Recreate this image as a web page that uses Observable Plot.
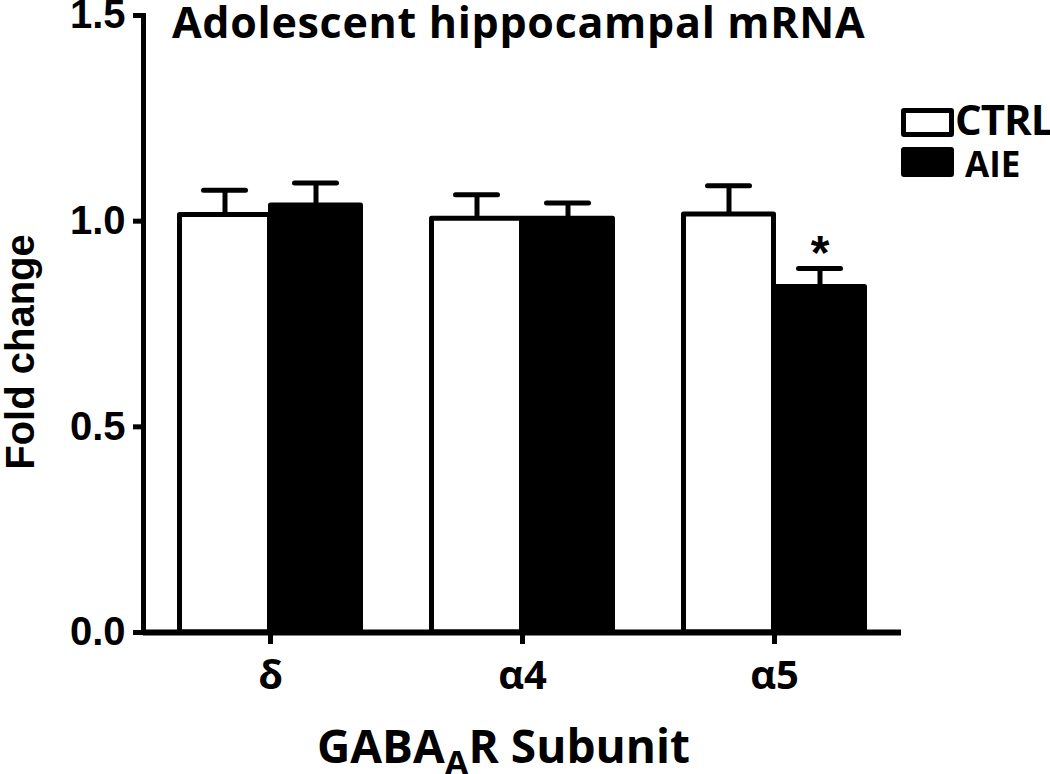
<!DOCTYPE html>
<html><head><meta charset="utf-8">
<script src="https://cdn.jsdelivr.net/npm/d3@7"></script>
<script src="https://cdn.jsdelivr.net/npm/@observablehq/plot@0.6"></script>
<style>
body{margin:0;background:#fff}
#wrap{position:relative;width:1050px;height:774px;overflow:hidden}
.t{position:absolute;font-family:"Open Sans";font-weight:700;color:#000;white-space:nowrap;line-height:1}
.box{position:absolute;box-sizing:border-box;border:5px solid #000;border-radius:3px}
</style></head><body><div id="wrap"></div>
<script>
const subunits = ["δ", "α4", "α5"];
const groups = ["CTRL", "AIE"];
const ctrlMean = [1.015, 1.006, 1.016];
const ctrlSem = [0.06, 0.058, 0.07];
const aieMean = [1.038, 1.006, 0.84];
const aieSem = [0.055, 0.038, 0.045];
const aieSig = ["", "", "*"];
const yTicks = [0, 0.5, 1.0, 1.5];
const title = "Adolescent hippocampal mRNA";
const yLabel = "Fold change";

const ctrl = subunits.map((s, i) => ({subunit: s, group: groups[0], mean: ctrlMean[i], sem: ctrlSem[i], sig: ""}));
const aie = subunits.map((s, i) => ({subunit: s, group: groups[1], mean: aieMean[i], sem: aieSem[i], sig: aieSig[i]}));

function groupMarks(data, dx, fill) {
  return [
    Plot.ruleX(data, {x: "subunit", y1: "mean", y2: d => d.mean + d.sem, dx, stroke: "black", strokeWidth: 5}),
    Plot.tickY(data, {x: "subunit", y: d => d.mean + d.sem, dx, insetLeft: 105, insetRight: 105, stroke: "black", strokeWidth: 5, strokeLinecap: "round"}),
    Plot.barY(data, {x: "subunit", y: "mean", dx, insetLeft: 81, insetRight: 81, fill, stroke: "black", strokeWidth: 5, strokeLinejoin: "round"})
  ];
}

const plot = Plot.plot({
  width: 1050, height: 774,
  marginLeft: 143, marginRight: 149, marginTop: 15, marginBottom: 142,
  style: {fontFamily: "Liberation Sans", background: "white", color: "black", overflow: "visible"},
  x: {domain: subunits, padding: 0, label: null},
  y: {domain: [0, 1.5], label: null},
  marks: [
    ...groupMarks(ctrl, -45.5, "white"),
    ...groupMarks(aie, 45.5, "black"),
    Plot.text(aie.filter(d => d.sig), {x: "subunit", y: d => d.mean + d.sem, text: "sig", dx: 45.5, dy: -15, fontSize: 48, fontWeight: "bold", fill: "black"}),
    Plot.ruleY([0], {stroke: "black", strokeWidth: 6}),
    Plot.frame({anchor: "left", stroke: "black", strokeWidth: 5}),
    Plot.axisY({ticks: yTicks, tickFormat: d3.format(".1f"), tickSize: 10, tickPadding: 8, stroke: "black", strokeWidth: 5, fontSize: 40, fontWeight: "bold", fill: "black", label: null}),
    Plot.axisX({tickSize: 12, tickPadding: 16, stroke: "black", strokeWidth: 5, fontSize: 40, fontWeight: "bold", fontFamily: "Open Sans", fill: "black", label: null})
  ]
});

const wrap = document.getElementById("wrap");
wrap.appendChild(plot);

function addText(html, css) {
  const d = document.createElement("div");
  d.className = "t";
  d.innerHTML = html;
  Object.assign(d.style, css);
  wrap.appendChild(d);
  return d;
}
addText(title, {left: "172px", top: "0px", fontSize: "43px", letterSpacing: "0.7px"});
addText("GABA<sub style='font-size:0.75em;vertical-align:-0.35em;line-height:0'>A</sub>R Subunit", {left: "317px", top: "722px", fontSize: "46px"});
addText(yLabel, {left: "20px", top: "352px", fontSize: "40px", fontFamily: "Liberation Sans", transform: "translate(-50%,-50%) rotate(-90deg)"});
const b1 = document.createElement("div"); b1.className = "box";
Object.assign(b1.style, {left: "901px", top: "108px", width: "53px", height: "29px", background: "#fff"}); wrap.appendChild(b1);
const b2 = document.createElement("div"); b2.className = "box";
Object.assign(b2.style, {left: "901px", top: "147px", width: "53px", height: "30px", background: "#000"}); wrap.appendChild(b2);
addText(groups[0], {left: "955px", top: "98px", fontSize: "42px", letterSpacing: "-1px"});
addText(groups[1], {left: "965px", top: "146px", fontSize: "35px"});
</script></body></html>
